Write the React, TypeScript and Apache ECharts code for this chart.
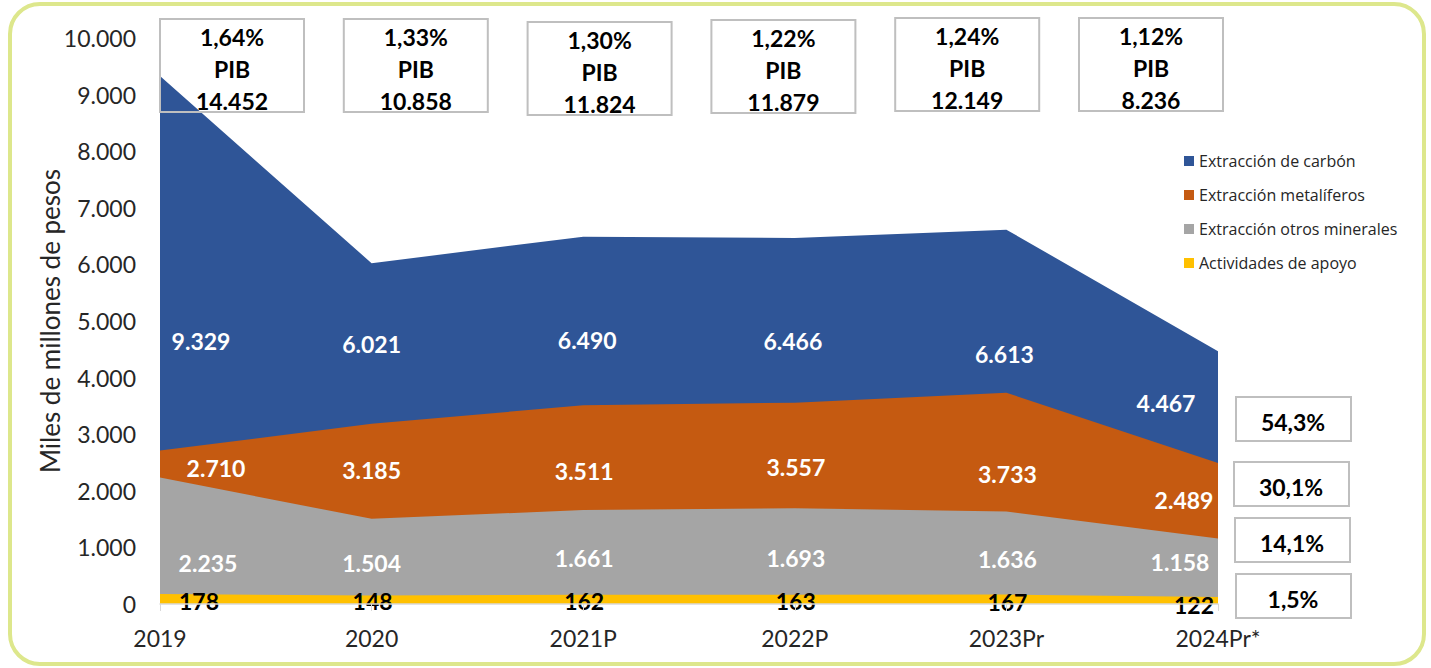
import React, { useEffect, useRef } from "react";
import * as echarts from "echarts";

const categories = ["2019", "2020", "2021P", "2022P", "2023Pr", "2024Pr*"];
const carbon = [9329, 6021, 6490, 6466, 6613, 4467];
const metal = [2710, 3185, 3511, 3557, 3733, 2489];
const otros = [2235, 1504, 1661, 1693, 1636, 1158];
const apoyo = [178, 148, 162, 163, 167, 122];
const pibShare = ["1,64%", "1,33%", "1,30%", "1,22%", "1,24%", "1,12%"];
const pibTotal = [14452, 10858, 11824, 11879, 12149, 8236];
const shares2024 = ["54,3%", "30,1%", "14,1%", "1,5%"];
const seriesNames = [
  "Extracción de carbón",
  "Extracción metalíferos",
  "Extracción otros minerales",
  "Actividades de apoyo",
];
const yTicks = [0, 1000, 2000, 3000, 4000, 5000, 6000, 7000, 8000, 9000, 10000];

const colors = ["#2F5597", "#C55A11", "#A5A5A5", "#FFC000"];
const FONT = "Lato";

const fmt = (n: number) => String(n).replace(/\B(?=(\d{3})+(?!\d))/g, ".");

// label offsets (pixels) relative to each data point
const offsets = [
  [[41, 265], [0, 81], [4, 103], [-2, 103], [-2, 124], [-52, 52]],
  [[56, 17], [0, 46], [1, 66], [1, 64], [1, 81], [-34, 37]],
  [[48, 86], [0, 44], [1, 48], [1, 50], [1, 48], [-38, 24]],
  [[39, 7], [1, 5], [1, 6], [1, 6], [1, 7], [-24, 8]],
];
const topBoxY = [19, 19, 22, 20, 18, 18];
const rightBoxY = [397, 462, 518, 574];
const rightBoxX = [1236, 1234, 1235, 1236];

export default function App() {
  const ref = useRef<HTMLDivElement>(null);
  useEffect(() => {
    if (!ref.current) return;
    const chart = echarts.init(ref.current, null, { renderer: "svg" });
    const seriesData = [carbon, metal, otros, apoyo];
    const series = seriesData.map((arr, si) => ({
      name: seriesNames[si],
      type: "line",
      data: arr.map((v, i) => ({
        value: v,
        label: { offset: offsets[si][i] },
      })),
      symbol: "circle",
      symbolSize: 1,
      showSymbol: true,
      itemStyle: { color: "rgba(0,0,0,0)" },
      lineStyle: { width: 0 },
      areaStyle: { color: colors[si], opacity: 1 },
      z: 2 + si,
      label: {
        show: true,
        position: "inside",
        formatter: (p: any) => fmt(p.value),
        color: si === 3 ? "#000000" : "#ffffff",
        fontFamily: FONT,
        fontWeight: "bold",
        fontSize: 23,
      },
      emphasis: { disabled: true },
    }));

    const graphics: any[] = [
      {
        type: "rect",
        shape: { x: 10, y: 4, width: 1414, height: 660, r: 30 },
        style: { fill: "none", stroke: "#dde78c", lineWidth: 4 },
        z: 1,
      },
    ];
    pibShare.forEach((s, i) => {
      const x = 160 + i * 183.8;
      const y = topBoxY[i];
      graphics.push({
        type: "rect",
        shape: { x, y, width: 144, height: 93 },
        style: { fill: "none", stroke: "#bfbfbf", lineWidth: 2 },
        z: 20,
      });
      [s, "PIB", fmt(pibTotal[i])].forEach((t, k) => {
        graphics.push({
          type: "text",
          x: x + 72,
          y: y + 17.5 + k * 32,
          style: {
            text: t,
            fill: "#000",
            font: `bold 23px ${FONT}`,
            align: "center",
            verticalAlign: "middle",
          },
          z: 21,
        });
      });
    });
    shares2024.forEach((s, i) => {
      const x = rightBoxX[i];
      const y = rightBoxY[i];
      graphics.push({
        type: "rect",
        shape: { x, y, width: 115, height: 44 },
        style: { fill: "#fff", stroke: "#bfbfbf", lineWidth: 2 },
        z: 20,
      });
      graphics.push({
        type: "text",
        x: x + 57,
        y: y + 25,
        style: {
          text: s,
          fill: "#000",
          font: `bold 23px ${FONT}`,
          align: "center",
          verticalAlign: "middle",
        },
        z: 21,
      });
    });

    chart.setOption({
      animation: false,
      backgroundColor: "#ffffff",
      grid: { left: 160, right: 213, top: 38, bottom: 64, containLabel: false },
      legend: {
        orient: "vertical",
        left: 1179,
        top: 147,
        itemWidth: 10,
        itemHeight: 10,
        itemGap: 16,
        icon: "rect",
        data: seriesNames.map((n, i) => ({ name: n, itemStyle: { color: colors[i] } })),
        textStyle: { fontFamily: "Open Sans", fontSize: 16, color: "#262626", lineHeight: 18 },
        selectedMode: false,
      },
      xAxis: {
        type: "category",
        data: categories,
        boundaryGap: false,
        axisLine: { lineStyle: { color: "#d9d9d9", width: 1.5 } },
        axisTick: { show: true, length: 7, lineStyle: { color: "#d9d9d9" } },
        axisLabel: {
          fontFamily: FONT,
          fontSize: 23,
          color: "#262626",
          margin: 22,
        },
        z: 10,
      },
      yAxis: {
        type: "value",
        min: yTicks[0],
        max: yTicks[yTicks.length - 1],
        interval: 1000,
        name: "Miles de millones de pesos",
        nameLocation: "middle",
        nameGap: 97,
        nameMoveOverlap: false,
        nameRotate: 90,
        nameTextStyle: { fontFamily: FONT, fontSize: 26, color: "#262626" },
        axisLine: { show: false },
        axisTick: { show: false },
        splitLine: { show: false },
        axisLabel: {
          fontFamily: FONT,
          fontSize: 23,
          color: "#262626",
          margin: 24,
          formatter: (v: number) => fmt(v),
        },
      },
      series,
      graphic: graphics,
    });
    return () => chart.dispose();
  }, []);
  return (
    <div
      ref={ref}
      style={{ position: "fixed", left: 0, top: 0, width: 1431, height: 668 }}
    />
  );
}
